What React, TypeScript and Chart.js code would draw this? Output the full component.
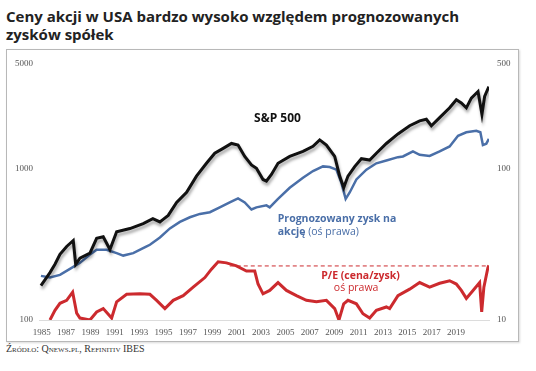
import React, { useEffect, useRef } from "react";
import { Chart, registerables } from "chart.js";
Chart.register(...registerables);

const xTickYears = [1985, 1987, 1989, 1991, 1993, 1995, 1997, 1999, 2001, 2003, 2005, 2007, 2009, 2011, 2013, 2015, 2017, 2019];
const leftTicks = [100, 1000, 5000];
const rightTicks = [10, 100, 500];

const spYears = [1984.94, 1985.68, 1986.09, 1986.5, 1987.05, 1987.59, 1987.79, 1988.14, 1988.96, 1989.51, 1990.05, 1990.6, 1991.15, 1992.24, 1993.33, 1994.12, 1994.7, 1994.97, 1995.38, 1996.07, 1996.89, 1997.7, 1998.52, 1999.2, 1999.89, 2000.57, 2001.11, 2001.66, 2002.21, 2002.62, 2003.16, 2003.44, 2003.85, 2004.39, 2005.35, 2006.44, 2007.26, 2007.81, 2008.36, 2009.04, 2009.45, 2009.78, 2010.13, 2010.68, 2011.23, 2011.91, 2012.46, 2013.28, 2014.23, 2015.19, 2016.01, 2016.56, 2016.97, 2017.65, 2018.47, 2019.02, 2019.43, 2019.84, 2020.25, 2020.8, 2021.12, 2021.34, 2021.69];
const spValues = [169, 206, 234, 272, 307, 336, 234, 257, 277, 347, 356, 293, 384, 403, 435, 469, 446, 464, 493, 600, 700, 897, 1091, 1271, 1369, 1475, 1440, 1210, 1064, 1012, 852, 832, 919, 1091, 1210, 1307, 1412, 1558, 1440, 1210, 897, 753, 897, 1037, 1170, 1145, 1271, 1475, 1706, 1932, 2082, 2133, 1932, 2186, 2540, 2874, 2735, 2540, 2947, 3256, 2298, 3019, 3511];

const epsYears = [1984.94, 1985.68, 1986.5, 1987.32, 1988.14, 1988.96, 1989.51, 1990.33, 1991.15, 1991.69, 1992.51, 1993.61, 1993.88, 1994.7, 1995.52, 1996.34, 1997.16, 1997.98, 1998.8, 1999.61, 2000.43, 2001.11, 2001.66, 2002.21, 2002.62, 2003.44, 2003.71, 2004.39, 2005.35, 2006.44, 2007.26, 2008.08, 2008.63, 2009.18, 2009.59, 2009.94, 2010.27, 2010.82, 2011.64, 2012.46, 2013.28, 2014.23, 2014.64, 2015.46, 2016.01, 2016.83, 2017.65, 2018.47, 2019.16, 2019.84, 2020.66, 2020.99, 2021.2, 2021.48, 2021.69];
const epsValues = [19.6, 19.1, 19.9, 21.8, 23.9, 27.1, 29.2, 29.2, 27.7, 26.7, 27.7, 30.7, 31.5, 35.2, 40.4, 44.6, 47.9, 50.4, 51.7, 55.7, 60.1, 63.8, 60.1, 53.9, 55.7, 57.4, 55.7, 63.3, 75.1, 87.5, 96.9, 104, 103, 99, 80.9, 63.3, 69.9, 85.2, 99, 109, 113.7, 119.7, 121, 130.7, 124, 122, 130.7, 141, 166, 175, 179, 175, 144, 147, 158];

const peYears = [1985.68, 1986.09, 1986.5, 1987.05, 1987.54, 1987.87, 1988.14, 1988.96, 1989.51, 1990.05, 1990.74, 1991.15, 1991.97, 1993.06, 1993.88, 1994.43, 1995.11, 1995.79, 1996.61, 1997.43, 1998.39, 1998.93, 1999.48, 2000.16, 2000.98, 2001.8, 2002.48, 2002.75, 2003.16, 2003.71, 2004.39, 2005.08, 2005.9, 2006.72, 2007.54, 2008.36, 2009.04, 2009.39, 2009.78, 2010.13, 2010.82, 2011.36, 2011.91, 2012.46, 2013.28, 2013.55, 2014.23, 2015.19, 2016.01, 2016.83, 2017.65, 2018.47, 2019.02, 2019.43, 2019.84, 2020.39, 2020.93, 2021.1, 2021.28, 2021.61, 2021.69];
const peValues = [10, 11.6, 12.9, 13.5, 15.3, 11.1, 10.3, 10.0, 11.3, 11.9, 10.3, 13.2, 14.8, 14.9, 14.8, 13.5, 11.9, 13.5, 14.5, 16.5, 19.1, 21.7, 24.3, 23.9, 22.8, 21.1, 21.1, 17.3, 14.9, 15.7, 17.7, 15.7, 14.5, 13.5, 13.2, 13.5, 11.9, 10.0, 12.8, 13.5, 12.8, 11.0, 10.3, 11.6, 12.2, 11.9, 14.5, 16.0, 17.7, 16.5, 17.5, 18.2, 17.3, 15.7, 13.9, 15.7, 17.7, 11.3, 16.5, 22.2, 23];

const peRefYears = [2000.43, 2021.65];
const peRefValues = [22.8, 22.8];

const BLACK = "#111111";
const BLUE = "#4a6fa8";
const RED = "#cc2a2e";

function pts(xs: number[], ys: number[]) {
  return xs.map((x, i) => ({ x, y: ys[i] }));
}

export default function App() {
  const ref = useRef<HTMLCanvasElement>(null);
  useEffect(() => {
    document.body.style.margin = "0";
    const canvas = ref.current!;
    const shadowPlugin = {
      id: "shadow",
      beforeDatasetDraw(chart: any, args: any) {
        if (args.index === 0) {
          const c = chart.ctx;
          c.save();
          c.shadowColor = "rgba(0,0,0,0.35)";
          c.shadowBlur = 3;
          c.shadowOffsetX = 1;
          c.shadowOffsetY = 3;
        }
      },
      afterDatasetDraw(chart: any, args: any) {
        if (args.index === 0) chart.ctx.restore();
      },
    };
    const labelsPlugin = {
      id: "labels",
      afterDatasetsDraw(chart: any) {
        const c = chart.ctx;
        const x = chart.scales.x;
        const y = chart.scales.yL;
        c.save();
        c.textBaseline = "middle";
        c.fillStyle = BLACK;
        c.textAlign = "center";
        c.font = "bold 12px 'Open Sans'";
        c.fillText("S&P 500", x.getPixelForValue(2004.35), y.getPixelForValue(2143));
        c.textAlign = "left";
        c.fillStyle = BLUE;
        c.font = "bold 10.5px 'Open Sans'";
        const lx = x.getPixelForValue(2004.37);
        c.fillText("Prognozowany zysk na", lx, y.getPixelForValue(469));
        const ly = y.getPixelForValue(384);
        c.fillText("akcję", lx, ly);
        const w = c.measureText("akcję").width;
        c.font = "10.5px 'Open Sans'";
        c.fillText(" (oś prawa)", lx + w, ly);
        c.fillStyle = RED;
        c.textAlign = "center";
        c.font = "bold 10.5px 'Open Sans'";
        c.fillText("P/E (cena/zysk)", x.getPixelForValue(2011.16), y.getPixelForValue(196));
        c.font = "10.5px 'Open Sans'";
        c.fillText("oś prawa", x.getPixelForValue(2010.8), y.getPixelForValue(162));
        c.restore();
      },
    };
    const tickFont = { family: "'Liberation Serif'", size: 9 };
    const noGrid = { display: false, drawTicks: false, tickLength: 0 };
    const chart = new Chart(canvas, {
      type: "line",
      data: {
        datasets: [
          { label: "S&P 500", data: pts(spYears, spValues), yAxisID: "yL", borderColor: BLACK, borderWidth: 3, pointRadius: 0, tension: 0 },
          { label: "Prognozowany zysk", data: pts(epsYears, epsValues), yAxisID: "yR", borderColor: BLUE, borderWidth: 2.5, pointRadius: 0, tension: 0 },
          { label: "P/E", data: pts(peYears, peValues), yAxisID: "yR", borderColor: RED, borderWidth: 3, pointRadius: 0, tension: 0 },
          { label: "P/E ref", data: pts(peRefYears, peRefValues), yAxisID: "yR", borderColor: RED, borderWidth: 1, borderDash: [4, 3], pointRadius: 0 },
        ],
      },
      options: {
        animation: false,
        responsive: false,
        maintainAspectRatio: false,
        layout: { padding: { top: 8, left: 0, right: 0, bottom: 0 } },
        plugins: { legend: { display: false }, tooltip: { enabled: false } },
        scales: {
          x: {
            type: "linear",
            min: 1984.78,
            max: 2021.7,
            grid: noGrid,
            border: { display: true, color: "#dcdcdc", width: 1 },
            ticks: { autoSkip: false, maxRotation: 0, minRotation: 0, padding: 7, color: "#555", font: tickFont, callback: (v: any) => String(v) },
            afterBuildTicks: (s: any) => { s.ticks = xTickYears.map((v) => ({ value: v })); },
            afterFit: (s: any) => { s.height = 21; },
          },
          yL: {
            type: "logarithmic",
            position: "left",
            min: 100,
            max: 5000,
            grid: noGrid,
            border: { display: false },
            ticks: { padding: 6, color: "#555", font: tickFont, callback: (v: any) => String(v) },
            afterBuildTicks: (s: any) => { s.ticks = leftTicks.map((v) => ({ value: v })); },
            afterFit: (s: any) => { s.width = 32; },
          },
          yR: {
            type: "logarithmic",
            position: "right",
            min: 10,
            max: 500,
            grid: noGrid,
            border: { display: false },
            ticks: { padding: 8, color: "#555", font: tickFont, callback: (v: any) => String(v) },
            afterBuildTicks: (s: any) => { s.ticks = rightTicks.map((v) => ({ value: v })); },
            afterFit: (s: any) => { s.width = 29; },
          },
        },
      },
      plugins: [shadowPlugin, labelsPlugin],
    } as any);
    return () => chart.destroy();
  }, []);

  return (
    <div style={{ position: "relative", width: 536, height: 371, background: "#fff", overflow: "hidden" }}>
      <div style={{ position: "absolute", left: 6, top: 7, width: 530, font: "700 15px 'Open Sans'", lineHeight: "18px", color: "#222" }}>
        Ceny akcji w USA bardzo wysoko względem prognozowanych<br />zysków spółek
      </div>
      <div style={{ position: "absolute", left: 6, top: 49, width: 513, height: 293, border: "1px solid #b8b8b8", boxSizing: "border-box", boxShadow: "1px 1px 2px rgba(0,0,0,0.15)" }}>
        <canvas ref={ref} width={511} height={291} style={{ display: "block", width: 511, height: 291 }} />
      </div>
      <div style={{ position: "absolute", left: 6, top: 343, font: "10px 'Liberation Serif'", fontVariant: "small-caps", lineHeight: "12px", color: "#333" }}>
        Źródło: Qnews.pl, Refinitiv IBES
      </div>
    </div>
  );
}
